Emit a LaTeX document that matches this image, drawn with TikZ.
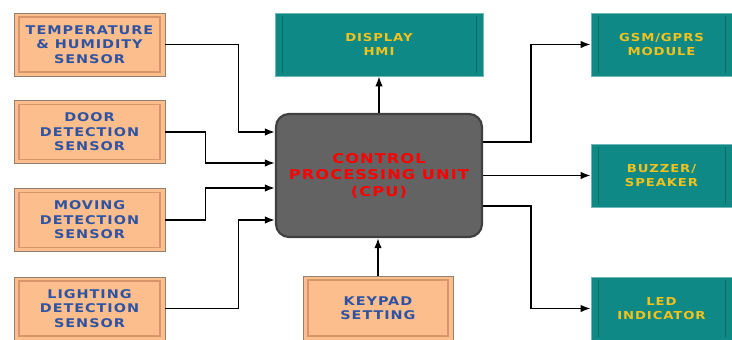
\documentclass[tikz,border=0pt]{standalone}
\usepackage{fontspec}
\usetikzlibrary{arrows.meta}
\newfontfamily\blockfont[FakeStretch=1.2,LetterSpace=8]{DejaVu Sans}

\definecolor{peach}{HTML}{FBBE8C}
\definecolor{peachline}{HTML}{D9956A}
\definecolor{teal}{HTML}{0E8985}
\definecolor{tealline}{HTML}{0A6A66}
\definecolor{cpugray}{HTML}{636363}
\definecolor{textblue}{HTML}{2F53A2}
\definecolor{textgold}{HTML}{F4C21C}

\begin{document}
\begin{tikzpicture}[x=1pt,y=-1pt,
    inbox/.style={draw=gray!70!brown, line width=0.8pt, fill=peach,
        minimum width=151pt, minimum height=63pt, align=center,
        text=textblue, font=\blockfont\bfseries\fontsize{12}{14.5}\selectfont,
        path picture={\draw[peachline, line width=1.2pt]
            ([shift={(5pt,-4pt)}]path picture bounding box.north west) rectangle
            ([shift={(-5pt,4pt)}]path picture bounding box.south east);}},
    outbox/.style={draw=teal!60!white, line width=0.6pt, fill=teal,
        minimum height=63pt, align=center,
        text=textgold, font=\blockfont\bfseries\fontsize{11}{14}\selectfont,
        path picture={\draw[tealline, line width=1pt]
            ([shift={(7pt,-3pt)}]path picture bounding box.north west) --
            ([shift={(7pt,3pt)}]path picture bounding box.south west)
            ([shift={(-7pt,-3pt)}]path picture bounding box.north east) --
            ([shift={(-7pt,3pt)}]path picture bounding box.south east);}},
    cpubox/.style={draw=black!75, line width=2.2pt, fill=cpugray,
        rounded corners=13pt, minimum width=206pt, minimum height=123pt,
        align=center, text=red,
        font=\blockfont\bfseries\fontsize{13.5}{16.5}\selectfont},
    link/.style={line width=1.7pt, -{Latex[length=10pt,width=7.5pt]}}]

    \useasboundingbox (0,0) rectangle (732,340);

    % Sensors
    \node[inbox] (temp)   at (89.5,44.5)  {TEMPERATURE\\\& HUMIDITY\\SENSOR};
    \node[inbox] (door)   at (89.5,132)   {DOOR\\DETECTION\\SENSOR};
    \node[inbox] (move)   at (89.5,220)   {MOVING\\DETECTION\\SENSOR};
    \node[inbox] (light)  at (89.5,308.5) {LIGHTING\\DETECTION\\SENSOR};

    % Controller, display and keypad
    \node[cpubox] (cpu) at (379,175.5) {CONTROL\\PROCESSING UNIT\\(CPU)};
    \node[outbox, minimum width=208pt] (hmi) at (379,44.5) {DISPLAY\\HMI};
    \node[inbox, minimum width=150pt, minimum height=64pt] (keypad) at (378,308) {KEYPAD\\SETTING};

    % Outputs
    \node[outbox, minimum width=141pt] (gsm)    at (661.5,44.5)  {GSM/GPRS\\MODULE};
    \node[outbox, minimum width=141pt] (buzzer) at (661.5,175.5) {BUZZER/\\SPEAKER};
    \node[outbox, minimum width=141pt] (led)    at (661.5,308.5) {LED\\INDICATOR};

    % Inputs to the CPU
    \draw[link] (temp.east)  -- ++(73,0) |- ([yshift=43.5pt]cpu.west);
    \draw[link] (door.east)  -- ++(40,0) |- ([yshift=12.5pt]cpu.west);
    \draw[link] (move.east)  -- ++(40,0) |- ([yshift=-12.5pt]cpu.west);
    \draw[link] (light.east) -- ++(73,0) |- ([yshift=-44.5pt]cpu.west);
    \draw[link] (keypad.north) -- (keypad.north |- cpu.south);

    % CPU outputs
    \draw[link] (cpu.north) -- (hmi.south);
    \draw[link] ([yshift=33.5pt]cpu.east) -- ++(48,0) |- (gsm.west);
    \draw[link] (cpu.east) -- (buzzer.west);
    \draw[link] ([yshift=-30.5pt]cpu.east) -- ++(48,0) |- (led.west);
\end{tikzpicture}
\end{document}
